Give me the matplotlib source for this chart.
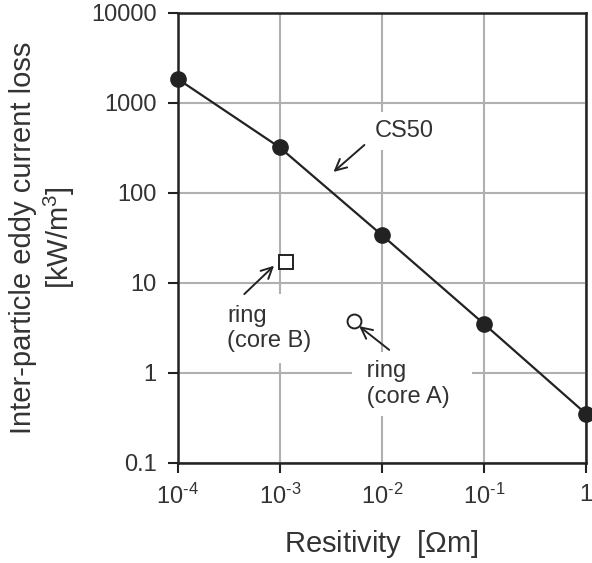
import numpy as np
import matplotlib
matplotlib.use('Agg')
import matplotlib.pyplot as plt

# CS50 series
resistivity=[1e-4,1e-3,1e-2,1e-1,1.0]
loss=[1850,320,34,3.5,0.35]
# ring samples
coreB_x,coreB_y=1.16e-3,17
coreA_x,coreA_y=5.3e-3,3.8
xticks=[1e-4,1e-3,1e-2,1e-1,1]
xticklabels=['10$^{\\text{-}4}$','10$^{\\text{-}3}$','10$^{\\text{-}2}$','10$^{\\text{-}1}$','1']
yticks=[0.1,1,10,100,1000,10000]
yticklabels=['0.1','1','10','100','1000','10000']

matplotlib.rcParams['font.family']='sans-serif'
matplotlib.rcParams['font.sans-serif']=['Liberation Sans','DejaVu Sans']
matplotlib.rcParams['mathtext.fontset']='custom'
matplotlib.rcParams['mathtext.rm']='Liberation Sans'
matplotlib.rcParams['mathtext.it']='Liberation Sans'

fig=plt.figure(figsize=(5.92,5.63),dpi=100)
ax=fig.add_axes([0.300,0.178,0.690,0.799])
ax.set_xscale('log')
ax.set_yscale('log')
ax.set_xlim(1e-4,1)
ax.set_ylim(0.1,10000)
ax.grid(True,which='major',color='#b0b0b0',linewidth=1.5)
ax.set_axisbelow(True)
for s in ax.spines.values():
	s.set_linewidth(1.8)
	s.set_color('#222222')
ax.set_xticks(xticks)
ax.set_xticklabels(xticklabels,fontsize=17,color='#333333')
ax.set_yticks(yticks)
ax.set_yticklabels(yticklabels,fontsize=17,color='#333333')
ax.minorticks_off()
ax.tick_params('both',direction='out',length=7,width=1.5,color='#222222',pad=8)

ax.plot(resistivity,loss,color='#222222',linewidth=1.6,marker='o',markersize=11,clip_on=False,zorder=5)
ax.plot([coreB_x],[coreB_y],marker='s',markersize=10,markerfacecolor='white',markeredgecolor='#222222',markeredgewidth=1.4,linestyle='none',zorder=5)
ax.plot([coreA_x],[coreA_y],marker='o',markersize=10,markerfacecolor='white',markeredgecolor='#222222',markeredgewidth=1.4,linestyle='none',zorder=5)

arrow=dict(arrowstyle='->,head_length=0.8,head_width=0.4',color='#222222',linewidth=1.4,shrinkA=0,shrinkB=0)
ax.annotate('',xy=(3.36e-3,171),xytext=(6.75e-3,341),arrowprops=arrow,zorder=6)
ax.text(8.5e-3,490,'CS50',fontsize=17,color='#333333',bbox=dict(facecolor='white',edgecolor='none',pad=6),va='center',ha='left',zorder=3)
ax.annotate('',xy=(8.8e-4,15.5),xytext=(4.5e-4,7.5),arrowprops=arrow,zorder=6)
ax.text(3.08e-4,3.1,'ring\n(core B)',fontsize=17,color='#333333',bbox=dict(facecolor='white',edgecolor='none',pad=8),va='center',ha='left',linespacing=1.2,zorder=3)
ax.annotate('',xy=(6.0e-3,3.3),xytext=(1.18e-2,1.8),arrowprops=arrow,zorder=6)
ax.text(6.15e-3,0.75,' ring  \n (core A)  ',fontsize=17,color='#333333',bbox=dict(facecolor='white',edgecolor='none',pad=6),va='center',ha='left',linespacing=1.2,zorder=3)

ax.set_xlabel('Resitivity  [$\\Omega$m]',fontsize=21,color='#333333',labelpad=14)
ax.set_ylabel('Inter-particle eddy current loss\n[kW/m$^3$]',fontsize=21,color='#333333',labelpad=10,linespacing=1.2)

fig.savefig('out.png',dpi=100)
